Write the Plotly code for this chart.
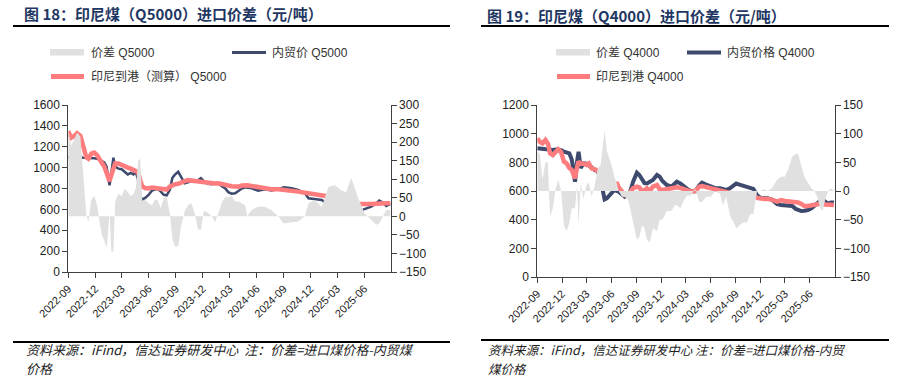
import plotly.graph_objects as go

W, H = 924, 379

# ---------------- data ----------------
tick_dates = ["2022-09-01", "2022-12-01", "2023-03-01", "2023-06-01", "2023-09-01", "2023-12-01",
              "2024-03-01", "2024-06-01", "2024-09-01", "2024-12-01", "2025-03-01", "2025-06-01"]
tick_labels = ["2022-09", "2022-12", "2023-03", "2023-06", "2023-09", "2023-12",
               "2024-03", "2024-06", "2024-09", "2024-12", "2025-03", "2025-06"]

dates_q5000 = ["2022-09-01", "2022-09-10", "2022-09-20", "2022-10-01", "2022-10-12", "2022-10-22",
               "2022-11-01", "2022-11-08", "2022-11-18", "2022-11-28", "2022-12-08", "2022-12-16",
               "2022-12-24", "2023-01-01", "2023-01-09", "2023-01-14", "2023-01-19", "2023-01-25",
               "2023-02-01", "2023-02-07", "2023-02-18", "2023-03-01", "2023-03-12", "2023-03-22",
               "2023-04-01", "2023-04-10", "2023-04-18", "2023-04-26", "2023-05-03", "2023-05-10",
               "2023-05-20", "2023-06-01", "2023-06-12", "2023-06-22", "2023-07-01", "2023-07-12",
               "2023-07-22", "2023-08-01", "2023-08-12", "2023-08-20", "2023-08-28", "2023-09-09",
               "2023-09-18", "2023-10-01", "2023-10-12", "2023-10-24", "2023-11-05", "2023-11-15",
               "2023-11-25", "2023-12-05", "2023-12-18", "2024-01-01", "2024-01-12", "2024-01-24",
               "2024-02-05", "2024-02-16", "2024-02-26", "2024-03-08", "2024-03-20", "2024-04-01",
               "2024-04-12", "2024-04-23", "2024-04-30", "2024-05-15", "2024-06-06", "2024-06-29",
               "2024-07-21", "2024-08-13", "2024-09-01", "2024-09-28", "2024-10-20", "2024-11-12",
               "2024-11-24", "2024-12-16", "2025-01-08", "2025-01-31", "2025-02-22", "2025-03-15",
               "2025-04-01", "2025-04-18", "2025-05-10", "2025-06-02", "2025-06-25", "2025-07-12",
               "2025-07-22", "2025-08-03", "2025-08-15", "2025-08-29"]
domestic_q5000 = [1100, 1100, 1105, 1105, 1100, 1095, 1095, 1095, 1090, 1090, 1085, 1075,
                  1065, 1050, 1010, 930, 830, 950, 1095, 1010, 990, 985, 960, 935,
                  950, 935, 960, 880, 720, 695, 710, 740, 780, 790, 800, 770,
                  740, 735, 790, 900, 930, 960, 915, 850, 860, 870, 870, 880,
                  900, 870, 845, 840, 850, 845, 820, 800, 765, 750, 755, 780,
                  800, 811, 808, 802, 780, 792, 780, 792, 811, 802, 786, 754,
                  706, 700, 690, 642, 642, 633, 610, 585, 579, 601, 626, 658,
                  684, 665, 633, 652]
import_q5000 = [1350, 1285, 1300, 1330, 1305, 1190, 1100, 1085, 1135, 1145, 1120, 1080,
                1045, 1010, 950, 905, 870, 930, 990, 1040, 1040, 1030, 1015, 1000,
                990, 980, 975, 955, 880, 820, 805, 800, 810, 805, 800, 790,
                785, 790, 820, 835, 840, 845, 860, 870, 880, 875, 870, 865,
                865, 860, 850, 845, 848, 850, 840, 838, 828, 822, 820, 818,
                828, 834, 830, 824, 811, 808, 792, 792, 788, 780, 770, 760,
                755, 746, 737, 722, 716, 710, 706, 690, 652, 649, 652, 655,
                658, 658, 658, 658]
spread_q5000 = [235, 190, 205, 225, 215, 100, 5, -15, 45, 55, 30, -15,
                -50, -65, -85, -45, 10, -95, -95, 40, 60, 55, 75, 65,
                55, 60, 75, 150, 155, 40, 45, 35, 30, 45, 44, 22,
                50, 53, 5, -60, -80, -82, -30, 15, 30, 35, 5, -35,
                -37, 15, 10, 0, -15, 10, 40, 53, 50, 55, 40, 40,
                35, 30, 0, 17, 26, 26, 17, 0, -19, -17, -14, 0,
                35, 44, 26, 80, 84, 70, 65, 104, 53, 8, -10, -23,
                -19, 0, 17, 17]

dates_q4000 = ["2022-09-01", "2022-09-10", "2022-09-20", "2022-10-01", "2022-10-10", "2022-10-18",
               "2022-10-28", "2022-11-08", "2022-11-17", "2022-11-28", "2022-12-08", "2022-12-18",
               "2022-12-28", "2023-01-06", "2023-01-18", "2023-01-25", "2023-01-31", "2023-02-08",
               "2023-02-18", "2023-03-01", "2023-03-10", "2023-03-20", "2023-04-01", "2023-04-12",
               "2023-04-22", "2023-05-01", "2023-05-07", "2023-05-15", "2023-05-25", "2023-06-02",
               "2023-06-12", "2023-06-20", "2023-06-28", "2023-07-10", "2023-07-20", "2023-08-01",
               "2023-08-09", "2023-08-20", "2023-09-03", "2023-09-12", "2023-09-22", "2023-10-01",
               "2023-10-10", "2023-10-20", "2023-11-01", "2023-11-16", "2023-11-26", "2023-12-06",
               "2023-12-22", "2024-01-08", "2024-01-20", "2024-01-28", "2024-02-10", "2024-02-25",
               "2024-03-06", "2024-03-20", "2024-04-05", "2024-04-20", "2024-04-30", "2024-05-15",
               "2024-06-01", "2024-06-18", "2024-07-05", "2024-07-15", "2024-07-28", "2024-08-12",
               "2024-08-25", "2024-09-03", "2024-09-15", "2024-09-28", "2024-10-12", "2024-10-25",
               "2024-11-05", "2024-11-19", "2024-12-01", "2024-12-15", "2024-12-28", "2025-01-12",
               "2025-02-01", "2025-02-15", "2025-03-01", "2025-03-15", "2025-03-28", "2025-04-10",
               "2025-04-19", "2025-05-01", "2025-05-12", "2025-05-25", "2025-06-07", "2025-06-18",
               "2025-06-28", "2025-07-10", "2025-07-18", "2025-07-28", "2025-08-08", "2025-08-18",
               "2025-08-29"]
domestic_q4000 = [898, 895, 892, 891, 890, 888, 886, 890, 890, 885, 874, 870,
                  863, 820, 665, 800, 874, 760, 793, 790, 780, 765, 745, 740,
                  680, 580, 542, 549, 570, 584, 607, 600, 595, 575, 560, 580,
                  595, 665, 728, 712, 680, 655, 653, 665, 677, 712, 700, 670,
                  642, 630, 655, 665, 653, 625, 615, 598, 598, 640, 658, 645,
                  630, 620, 619, 615, 607, 620, 645, 653, 645, 638, 635, 628,
                  615, 570, 552, 549, 549, 540, 509, 503, 502, 498, 495, 475,
                  467, 460, 462, 467, 480, 495, 512, 535, 542, 525, 512, 520,
                  520]
import_q4000 = [967, 944, 933, 956, 930, 863, 851, 880, 891, 870, 805, 793,
                760, 747, 688, 760, 805, 790, 790, 782, 793, 758, 747, 745,
                690, 660, 642, 635, 640, 640, 625, 660, 625, 595, 572, 580,
                590, 619, 630, 625, 595, 605, 619, 600, 630, 642, 612, 607,
                615, 619, 626, 626, 622, 610, 605, 595, 600, 630, 635, 628,
                620, 612, 600, 595, 588, 582, 580, 579, 578, 578, 577, 572,
                568, 552, 546, 544, 544, 540, 526, 537, 530, 528, 530, 525,
                520, 510, 495, 495, 500, 502, 505, 512, 514, 505, 502, 505,
                502]
spread_q4000 = [70, 65, 20, 50, 50, -45, -30, 5, 19, 0, -60, -70,
                -55, -30, -30, 10, -60, 15, -15, 10, 15, -10, 10, 40,
                45, 80, 105, 70, 55, 45, 25, 15, 0, -10, -10, -15,
                -30, -55, -85, -80, -60, -65, -85, -90, -65, -70, -50, -50,
                -35, -35, -25, -25, -30, -15, -8, -8, 4, -19, -19, -10,
                -10, 0, -5, -25, -10, -45, -55, -65, -60, -55, -55, -40,
                -40, 0, 0, 3, 0, 5, 20, 25, 25, 40, 60, 65,
                65, 45, 25, 15, 5, 0, -10, -30, -35, -15, 0, 5,
                0]

# ---------------- styling ----------------
BLUE = "#3d4a6e"
RED = "#ff7c7e"
GRAY = "#e0e0e0"
AXC = "#404040"
TITLE_C = "#1f3763"
FONT = "Liberation Sans, Arial, Noto Sans CJK SC, sans-serif"
CJK = "Noto Sans CJK SC, sans-serif"


def px(x):
    return x / W


def py(y):
    return 1 - y / H


fig = go.Figure()

# left chart
fig.add_trace(go.Scatter(x=dates_q5000, y=spread_q5000, mode="lines", fill="tozeroy",
                         fillcolor=GRAY, line=dict(width=0, color=GRAY),
                         xaxis="x", yaxis="y2", showlegend=False, hoverinfo="skip"))
fig.add_trace(go.Scatter(x=dates_q5000, y=domestic_q5000, mode="lines",
                         line=dict(color=BLUE, width=2.5),
                         xaxis="x", yaxis="y", showlegend=False))
fig.add_trace(go.Scatter(x=dates_q5000, y=import_q5000, mode="lines",
                         line=dict(color=RED, width=4.5),
                         xaxis="x", yaxis="y", showlegend=False))

# right chart
fig.add_trace(go.Scatter(x=dates_q4000, y=spread_q4000, mode="lines", fill="tozeroy",
                         fillcolor=GRAY, line=dict(width=0, color=GRAY),
                         xaxis="x2", yaxis="y4", showlegend=False, hoverinfo="skip"))
fig.add_trace(go.Scatter(x=dates_q4000, y=domestic_q4000, mode="lines",
                         line=dict(color=BLUE, width=4),
                         xaxis="x2", yaxis="y3", showlegend=False))
fig.add_trace(go.Scatter(x=dates_q4000, y=import_q4000, mode="lines",
                         line=dict(color=RED, width=4.5),
                         xaxis="x2", yaxis="y3", showlegend=False))

common_x = dict(type="date", tickvals=tick_dates, ticktext=tick_labels, tickangle=-45,
                ticks="outside", ticklen=5, tickcolor=AXC, showline=True, linecolor=AXC,
                linewidth=1, showgrid=False, zeroline=False, automargin=False,
                tickfont=dict(family=FONT, size=11, color="#222"))
common_y = dict(ticks="outside", ticklen=5, tickcolor=AXC, showline=True, linecolor=AXC,
                linewidth=1, showgrid=False, zeroline=False, automargin=False,
                tickfont=dict(family=FONT, size=12, color="#222"))

fig.update_layout(
    width=W, height=H, margin=dict(l=0, r=0, t=0, b=0, pad=0, autoexpand=False),
    paper_bgcolor="white", plot_bgcolor="white",
    title=dict(text="<b>图 18：印尼煤（Q5000）进口价差（元/吨）</b>",
               x=px(24), xref="container", xanchor="left",
               y=py(15), yref="container", yanchor="middle",
               font=dict(family=CJK, size=15, color=TITLE_C), automargin=False),
    xaxis=dict(domain=[px(68.3), px(390.7)], anchor="y",
               range=["2022-09-01", "2025-08-30"], **common_x),
    yaxis=dict(domain=[py(272), py(105)], anchor="x", range=[0, 1600], dtick=200, **common_y),
    yaxis2=dict(overlaying="y", side="right", anchor="x", range=[-150, 300], dtick=50, **common_y),
    xaxis2=dict(domain=[px(537.3), px(834.5)], anchor="y3",
                range=["2022-09-01", "2025-08-31"], **common_x),
    yaxis3=dict(domain=[py(277), py(105)], anchor="x2", range=[0, 1200], dtick=200, **common_y),
    yaxis4=dict(overlaying="y3", side="right", anchor="x2", range=[-150, 150], dtick=50, **common_y),
)

shapes = []
annotations = []


def hline(x0, x1, y, color, width):
    shapes.append(dict(type="line", xref="paper", yref="paper", x0=px(x0), x1=px(x1),
                       y0=py(y), y1=py(y), line=dict(color=color, width=width)))


def text(x, y, s, size, color="#222", family=FONT, xanchor="left", yanchor="middle"):
    annotations.append(dict(xref="paper", yref="paper", x=px(x), y=py(y), text=s,
                            showarrow=False, xanchor=xanchor, yanchor=yanchor, align="left",
                            font=dict(family=family, size=size, color=color)))


# separator lines and right title
hline(13, 450, 26, "black", 2)
hline(481, 889, 26, "black", 2)
hline(13, 450, 342, "black", 2)
hline(481, 889, 340, "black", 2)
text(485, 15, "<b>图 19：印尼煤（Q4000）进口价差（元/吨）</b>", 15, TITLE_C, CJK)

# legends
shapes.append(dict(type="rect", xref="paper", yref="paper", x0=px(50), x1=px(84),
                   y0=py(55.5), y1=py(49), line=dict(width=0), fillcolor=GRAY))
text(89, 53, "价差 Q5000", 12, "#333", FONT)
hline(232, 266, 52.5, BLUE, 3)
text(270, 53, "内贸价 Q5000", 12, "#333", FONT)
hline(51, 84, 76.5, RED, 5)
text(89, 77, "印尼到港（测算） Q5000", 12, "#333", FONT)

shapes.append(dict(type="rect", xref="paper", yref="paper", x0=px(556), x1=px(590),
                   y0=py(55.5), y1=py(49), line=dict(width=0), fillcolor=GRAY))
text(594, 53, "价差 Q4000", 12, "#333", FONT)
hline(687, 721, 52.5, BLUE, 4)
text(725, 53, "内贸价格 Q4000", 12, "#333", FONT)
hline(557, 590, 76.5, RED, 5)
text(594, 77, "印尼到港 Q4000", 12, "#333", FONT)

# footers (two lines each, wrapped like the reference)
text(24, 349, "<i>资料来源：iFind，信达证券研发中心  注：价差=进口煤价格-内贸煤</i>", 13, "#222", CJK)
text(24, 368, "<i>价格</i>", 13, "#222", CJK)
text(486, 349, "<i>资料来源：iFind，信达证券研发中心 注：价差=进口煤价格-内贸</i>", 12.5, "#222", CJK)
text(486, 368, "<i>煤价格</i>", 12.5, "#222", CJK)

fig.update_layout(shapes=shapes, annotations=annotations)

fig.write_html("out.html", config={"displayModeBar": False},
               post_script="document.body.style.margin='0px';document.body.style.padding='0px';"
                           "document.body.style.overflow='hidden';")
